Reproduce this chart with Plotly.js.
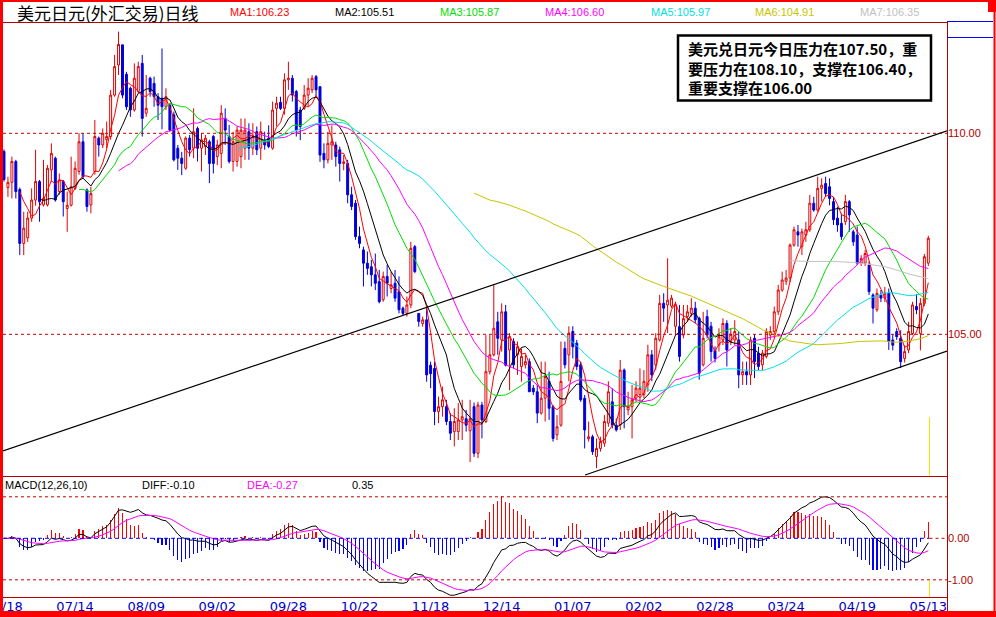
<!DOCTYPE html>
<html><head><meta charset="utf-8">
<script src="https://cdn.plot.ly/plotly-3.0.1.min.js"></script>
<style>html,body{margin:0;padding:0;background:#fff;overflow:hidden}#chart{width:996px;height:617px}</style>
</head><body><div id="chart"></div>
<script>
// ---- data ----
const tickLabels = ['06/18','07/14','08/09','09/02','09/28','10/22','11/18','12/14','01/07','02/02','02/28','03/24','04/19','05/13'];
const tickIndex = [0,18,36,54,72,90,108,126,144,162,180,198,216,234];

const openP = [
109.55,108.65,108.78,109.30,108.6,107.26,107.4,107.89,108.34,108.8,
108.22,108.22,109.09,109.38,108.55,108.8,108.13,108.21,108.63,109.05,
109.79,108.59,108.22,109.05,109.88,109.71,109.84,109.92,110.95,111.7,
112.2,111.47,111.12,110.58,111.04,111.74,110.5,111.37,111.24,110.91,
110.87,110.66,110.7,110.46,109.63,109.38,109.13,109.88,109.63,110.12,
109.63,109.67,109.79,109.92,109.42,109.5,110.37,109.92,109.3,109.3,
109.42,109.63,110.04,109.63,110.04,109.63,109.83,109.88,109.63,110.62,
110.77,110.62,111.33,111.37,111.04,110.58,110.62,110.95,111.08,111.41,
111.16,109.5,109.34,109.71,109.71,109.59,109.25,109.25,108.47,108.26,
107.43,107.1,106.77,106.68,106.48,106.31,105.86,106.44,106.14,106.27,
106.06,105.65,105.52,105.73,107.18,105.52,105.27,105.36,104.23,104.15,
103.08,103.2,103.2,102.83,102.58,102.58,102.87,102.9,102.6,103.2,
102.04,103.24,102.83,104.07,104.49,105.31,104.86,105.56,104.61,104.82,
104.49,104.2,104.24,104.32,103.66,103.57,103.04,103.41,103.83,103.2,
102.5,102.74,104.65,104.49,105.07,104.78,104.24,103.41,102.4,102.45,
101.96,102.16,102.29,102.79,103.32,102.74,102.74,104.11,103.12,103.2,
103.41,103.5,103.5,103.74,104.49,104.24,104.86,105.77,105.73,105.7,
105.2,105.19,104.98,105.44,105.52,105.65,105.4,104.24,105.44,105.2,
104.6,104.73,104.86,105.27,104.82,104.86,104.86,103.99,104.07,103.99,
104.9,104.53,104.24,104.45,104.98,105.07,105.56,106.1,106.32,106.4,
107.22,107.55,107.18,107.47,107.6,108.26,108.09,108.63,108.75,108.67,
108.3,107.89,107.76,107.8,108.3,107.55,107.47,106.77,106.77,106.72,
105.98,105.61,105.98,105.9,106.02,104.86,105.07,104.9,104.4,104.61,
105.02,105.69,105.02,105.77,106.77];

const highP = [
109.6,108.92,109.42,109.34,108.65,108.05,108.05,108.63,109.59,108.84,
109.34,109.21,109.75,109.42,109.0,108.84,108.55,109.42,109.3,110.0,
110.0,108.63,108.67,110.33,109.92,110.12,110.29,111.08,111.95,112.53,
112.2,111.53,111.16,111.74,111.78,111.95,111.45,111.41,111.41,111.0,
112.11,111.12,110.75,110.54,109.71,109.54,109.92,109.96,110.62,110.17,
110.0,109.96,109.84,109.96,109.84,110.7,110.62,110.21,110.04,110.17,
110.37,110.37,110.25,110.25,110.17,110.29,110.04,110.2,110.79,110.91,
110.91,111.49,111.78,111.45,111.08,110.66,111.2,111.37,111.45,111.45,
111.16,109.75,110.04,110.2,109.79,109.67,109.46,109.34,108.67,108.34,
107.68,107.18,107.06,106.85,107.01,106.6,106.56,106.73,106.56,106.6,
106.44,105.69,105.94,107.3,107.22,105.52,105.44,105.65,104.32,104.32,
103.45,103.7,103.37,103.04,103.16,103.29,103.37,103.12,103.37,103.3,
103.32,103.32,104.98,104.98,106.23,105.56,105.77,105.73,105.03,104.9,
104.82,104.65,104.49,104.4,103.74,103.74,104.32,104.32,104.07,103.24,
102.99,104.82,104.82,105.2,105.2,104.86,104.32,103.49,102.83,102.5,
102.41,102.45,102.99,103.83,103.66,102.91,104.36,104.15,103.57,103.74,
103.83,104.15,104.11,104.74,104.61,105.03,105.98,106.02,106.89,105.98,
105.81,105.73,105.73,105.73,105.9,105.81,105.44,105.56,105.61,105.31,
104.7,105.15,105.4,105.35,105.15,105.35,105.07,104.32,104.32,104.94,
105.0,104.69,104.61,105.15,105.2,105.69,106.23,106.56,106.6,107.26,
107.68,107.72,107.63,107.8,108.47,108.42,108.92,108.88,108.92,108.88,
108.42,108.17,108.0,108.47,108.34,107.6,107.68,106.97,107.1,106.81,
106.02,106.14,106.1,106.18,106.14,105.0,105.15,105.1,104.73,105.31,
105.81,106.0,105.9,107.0,107.45];

const lowP = [
108.8,108.42,108.38,108.38,106.97,106.97,107.3,107.8,108.2,107.8,
108.18,108.18,108.8,108.3,108.47,107.93,107.55,108.18,108.59,108.97,
108.88,108.05,108.01,108.97,109.42,109.63,109.63,109.84,110.91,111.45,
110.87,110.58,110.41,110.54,111.0,109.92,110.41,110.91,110.66,110.33,
110.1,110.58,110.04,109.3,109.09,108.96,109.09,109.42,109.38,109.3,
109.05,109.46,108.76,109.0,109.21,109.13,109.71,109.25,109.05,109.17,
109.13,109.34,109.34,109.46,109.46,109.34,109.59,109.63,109.59,110.17,
110.58,110.46,111.08,110.79,109.92,109.83,110.58,110.66,111.0,110.91,
109.29,109.13,109.25,109.34,109.17,108.8,109.08,108.26,108.09,107.35,
107.14,106.19,106.48,106.19,106.1,105.77,105.81,105.94,106.02,105.81,
105.52,105.48,105.44,105.65,106.52,105.19,105.19,103.82,103.66,102.74,
102.79,102.95,102.74,102.37,102.21,102.37,102.37,102.58,101.82,101.95,
101.92,102.41,102.79,104.0,104.45,104.49,104.57,104.2,103.61,104.15,
103.99,103.82,104.15,103.57,103.49,102.79,103.0,102.83,102.87,102.33,
102.37,102.7,104.15,103.83,104.4,104.11,103.32,102.16,102.33,102.0,
101.67,102.08,102.2,102.7,102.66,102.58,102.62,102.66,102.99,102.41,
103.32,103.32,103.41,103.57,103.83,104.11,104.82,105.31,105.03,105.65,
104.98,104.32,104.9,105.31,105.44,105.27,103.87,104.2,104.9,104.32,
104.3,104.57,104.73,104.2,104.73,104.73,103.66,103.74,103.74,103.74,
103.91,104.11,104.11,104.4,104.86,104.9,105.48,106.06,106.23,106.3,
107.18,107.18,106.97,107.3,107.55,108.05,108.05,108.3,108.42,108.21,
107.72,107.55,107.35,107.72,107.55,107.2,106.72,106.7,106.7,105.98,
105.27,105.56,105.8,105.8,104.61,104.6,104.86,104.16,104.3,104.53,
104.98,105.5,104.6,105.7,106.7];

const closeP = [
108.85,108.78,109.30,108.55,107.26,107.64,107.89,108.34,108.8,108.3,
108.38,109.13,109.5,108.34,108.84,108.3,108.21,108.67,109.13,109.79,
108.92,108.18,108.5,109.92,109.71,110.0,109.92,110.95,111.66,112.21,
110.95,110.66,110.58,111.37,111.66,110.37,110.62,111.04,110.91,110.7,
110.66,110.91,110.08,109.34,109.38,109.25,109.88,109.59,110.04,109.63,
109.84,109.88,109.25,109.25,109.71,110.5,110.08,109.3,109.79,110.08,
110.08,110.08,109.63,109.92,109.59,110.04,109.71,109.67,110.58,110.75,
110.62,111.33,111.37,110.95,110.08,110.17,110.95,111.12,111.37,111.08,
109.46,109.34,109.75,109.79,109.42,109.25,109.29,108.47,108.18,107.43,
107.26,106.77,106.64,106.48,106.27,105.81,106.44,106.27,106.23,105.9,
105.61,105.52,105.73,107.14,106.56,105.32,105.36,103.99,104.02,103.08,
103.2,103.37,102.83,102.54,102.83,102.87,102.95,102.74,102.9,102.04,
103.24,102.87,104.07,104.49,105.15,104.9,105.56,104.23,104.94,104.24,
104.69,104.45,104.32,103.57,103.57,103.04,103.41,103.95,103.16,102.41,
102.7,103.83,104.24,105.03,104.69,104.2,103.37,102.62,102.45,102.08,
102.16,102.33,102.83,103.57,102.74,102.62,104.11,103.2,103.2,103.37,
103.66,103.66,103.83,104.49,103.99,104.9,105.77,105.65,105.85,105.9,
105.73,104.45,105.39,105.56,105.65,105.36,104.03,104.9,104.98,104.57,
104.4,104.94,105.27,104.61,105.0,105.07,103.99,104.07,103.99,104.86,
104.32,104.2,104.53,105.07,105.07,105.56,106.1,106.35,106.4,107.22,
107.6,107.47,107.55,107.6,108.26,108.09,108.63,108.71,108.5,108.38,
107.85,107.72,107.43,108.3,107.97,107.3,106.77,106.89,107.01,106.06,
105.65,106.02,105.9,106.02,104.82,104.73,104.94,104.32,104.57,105.07,
105.73,105.61,105.77,106.93,107.39];

const maPeriods = [5,10,20,30,60,120,200];
const maColors = ['#ff0000','#000000','#00dd00','#ff00ff','#00e0e8','#c8c400','#c0c0c0'];
const maLabels = ['MA1:106.23','MA2:105.51','MA3:105.87','MA4:106.60','MA5:105.97','MA6:104.91','MA7:106.35'];
const macdLabels = ['MACD(12,26,10)','DIFF:-0.10','DEA:-0.27','0.35'];
const noteLines = ['美元兑日元今日压力在107.50，重','要压力在108.10，支撑在106.40，','重要支撑在106.00'];
const upperChannel = {x:[-0.25,238.73], y:[102.10,110.06]};
const lowerChannel = {x:[147.1,238.73], y:[101.50,104.58]};

// ---- indicators (moving averages / MACD of the read closes) ----
const idx = closeP.map((_, i) => i);
function sma(a, n){ return a.map((_, i) => { if (i < n-1) return null; let s=0; for (let k=i-n+1;k<=i;k++) s+=a[k]; return s/n; }); }
function ema(a, n){ const k=2/(n+1); const o=[]; a.forEach((v,i)=>o.push(i===0?v:o[i-1]+k*(v-o[i-1]))); return o; }
const e12 = ema(closeP,12), e26 = ema(closeP,26);
const diff = e12.map((v,i)=>v-e26[i]);
const dea = ema(diff,10);
const hist = diff.map((v,i)=>2*(v-dea[i]));

// ---- geometry helpers (pixel -> paper) ----
const PX = px => (px - 3) / 944;
const PY = py => (597 - py) / 574;
const XR = [-0.25, 238.73];
const CJK = 'Noto Sans CJK SC';
const SANS = 'Liberation Sans, Arial, sans-serif';
const DRED = '#b00000';

const traces = [];
traces.push({type:'candlestick', x:idx, open:openP, high:highP, low:lowP, close:closeP,
  xaxis:'x', yaxis:'y', whiskerwidth:0, hoverinfo:'skip',
  increasing:{line:{color:'#e00000',width:1}, fillcolor:'#ffffff'},
  decreasing:{line:{color:'#0000d8',width:1}, fillcolor:'#0000d8'}});
maPeriods.forEach((n,j)=>{
  traces.push({type:'scatter', mode:'lines', x:idx, y:sma(closeP,n), xaxis:'x', yaxis:'y',
    line:{color:maColors[j], width:1}, hoverinfo:'skip'});
});
traces.push({type:'bar', x:idx, y:hist, xaxis:'x2', yaxis:'y2', width:0.28,
  marker:{color:hist.map(v=>v>=0?'#ff0000':'#0000ff'), line:{width:0}}, hoverinfo:'skip'});
traces.push({type:'scatter', mode:'lines', x:idx, y:diff, xaxis:'x2', yaxis:'y2', line:{color:'#000000',width:1}, hoverinfo:'skip'});
traces.push({type:'scatter', mode:'lines', x:idx, y:dea, xaxis:'x2', yaxis:'y2', line:{color:'#ff00ff',width:1}, hoverinfo:'skip'});

const shapes = [];
function pline(x0,y0,x1,y1,color,w,dash){ shapes.push({type:'line', xref:'paper', yref:'paper', x0:PX(x0), y0:PY(y0), x1:PX(x1), y1:PY(y1), line:{color, width:w, dash:dash||'solid'}}); }
function prect(x0,y0,x1,y1,fill){ shapes.push({type:'rect', xref:'paper', yref:'paper', x0:PX(x0), y0:PY(y0), x1:PX(x1), y1:PY(y1), fillcolor:fill, line:{width:0}}); }
[110,105].forEach(v=>shapes.push({type:'line', xref:'x', yref:'y', x0:XR[0], x1:XR[1], y0:v, y1:v, line:{color:'#c00000', width:1, dash:'3px,3px'}}));
shapes.push({type:'line', xref:'x', yref:'y', x0:upperChannel.x[0], y0:upperChannel.y[0], x1:upperChannel.x[1], y1:upperChannel.y[1], line:{color:'#000',width:1.2}});
shapes.push({type:'line', xref:'x', yref:'y', x0:lowerChannel.x[0], y0:lowerChannel.y[0], x1:lowerChannel.x[1], y1:lowerChannel.y[1], line:{color:'#000',width:1.2}});
[1,-1].forEach(v=>shapes.push({type:'line', xref:'x2', yref:'y2', x0:XR[0], x1:XR[1], y0:v, y1:v, line:{color:'#c00000', width:1, dash:'3px,3px'}}));
shapes.push({type:'line', xref:'x2', yref:'y2', x0:XR[0], x1:234.3, y0:0, y1:0, line:{color:'#0000ff', width:1, dash:'4px,3px'}});
shapes.push({type:'line', xref:'x2', yref:'y2', x0:234.3, x1:XR[1], y0:0, y1:0, line:{color:'#c00000', width:1, dash:'3px,3px'}});
pline(929.5,417,929.5,476,'#e8e800',1);
pline(929.5,580,929.5,597,'#e8e800',1);
pline(3,22.5,947,22.5,DRED,1);
pline(3,476.5,947,476.5,DRED,1);
pline(3,597.5,947,597.5,DRED,1);
pline(947.5,22,947.5,611,DRED,1);
pline(947,21.5,993,21.5,'#0000ff',1);
pline(947,37.5,993,37.5,'#0000ff',1);
pline(994.5,0,994.5,617,'#ff0000',2);
prect(-3,0,3,617,'#ff0000');
prect(0,0,996,2,'#ff0000');
prect(0,611,996,620,'#ff0000');
prect(988,0,996,12,'#ff0000');
shapes.push({type:'rect', xref:'paper', yref:'paper', x0:PX(678), y0:PY(35.5), x1:PX(931), y1:PY(100.5), fillcolor:'#ffffff', line:{color:'#000', width:2.5}});

const annotations = [];
function txt(text,px,py,color,size,family){ annotations.push({xref:'paper', yref:'paper', x:PX(px), y:PY(py), text, showarrow:false, xanchor:'left', yanchor:'middle', align:'left', borderpad:0, font:{family, size, color}}); }
txt('美元日元(外汇交易)日线', 16, 12, '#000', 17, CJK);
const maX = [229,334,439,544,650,754,859];
maLabels.forEach((t,j)=>txt(t, maX[j], 12, j===1?'#000':maColors[j], 11, SANS));
txt(macdLabels[0], 4, 485, '#000', 11, SANS);
txt(macdLabels[1], 141, 485, '#000', 11, SANS);
txt(macdLabels[2], 246, 485, '#ff00ff', 11, SANS);
txt(macdLabels[3], 351, 485, '#000', 11, SANS);
txt('<b>' + noteLines.join('<br>') + '</b>', 687, 68, '#000', 15, CJK);

const layout = {
  width:996, height:617, margin:{l:3, r:49, t:23, b:20, pad:0},
  paper_bgcolor:'#ffffff', plot_bgcolor:'#ffffff', showlegend:false, bargap:0,
  xaxis:{domain:[0,1], range:XR, anchor:'y', showticklabels:false, showgrid:false, zeroline:false, showline:false, ticks:'', rangeslider:{visible:false}, fixedrange:true},
  yaxis:{domain:[121/574,1], range:[101.475,112.744], side:'right', tickvals:[105,110], ticktext:['105.00','110.00'],
    tickfont:{family:SANS, size:11, color:DRED}, ticks:'', showgrid:false, zeroline:false, showline:false, fixedrange:true},
  xaxis2:{domain:[0,1], range:XR, anchor:'y2', tickvals:tickIndex, ticktext:tickLabels, tickangle:0, ticklabeloverflow:'allow',
    tickfont:{family:'DejaVu Sans', size:13, color:'#0000c8'}, ticks:'', showgrid:false, zeroline:false, showline:false, fixedrange:true},
  yaxis2:{domain:[0,120/574], range:[-1.414,1.477], side:'right', tickvals:[0,-1], ticktext:['0.00','-1.00'],
    tickfont:{family:SANS, size:11, color:DRED}, ticks:'', showgrid:false, zeroline:false, showline:false, fixedrange:true},
  shapes, annotations
};
Plotly.newPlot('chart', traces, layout, {staticPlot:true, displayModeBar:false});
</script></body></html>
